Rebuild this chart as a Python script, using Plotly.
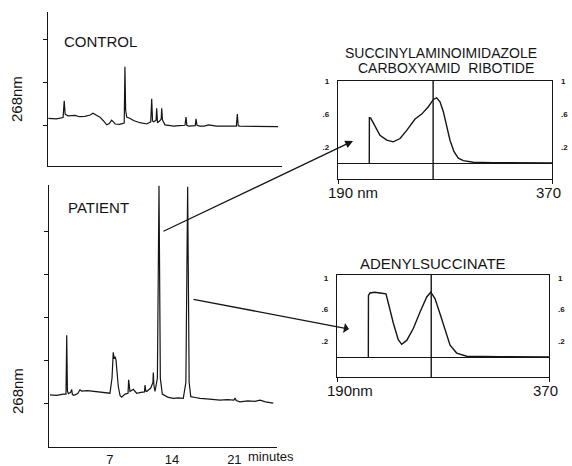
import plotly.graph_objects as go

# ---------------- data ----------------
# Control chromatogram (time in minutes, absorbance 268 nm, arbitrary units)
CONTROL_T = [0.1, 1.0, 1.75, 1.88, 1.98, 2.3, 3.1, 3.6, 4.2, 4.8, 5.1, 5.5, 5.9, 6.3, 6.65,
             6.95, 7.2, 7.4, 7.6, 8.1, 8.62, 8.70, 8.78, 8.9, 9.3, 9.65, 10.4, 11.15, 11.6,
             11.71, 11.8, 11.95, 12.2, 12.27, 12.36, 12.6, 12.78, 12.83, 12.92, 13.2, 13.7,
             14.2, 14.8, 15.45, 15.56, 15.66, 15.85, 16.6, 16.69, 16.8, 17.1, 17.6, 18.1,
             18.6, 19.0, 19.6, 20.4, 21.22, 21.33, 21.43, 21.6, 22.5, 23.4, 24.3, 25.2, 25.9]
CONTROL_V = [1.16, 1.15, 1.18, 1.57, 1.26, 1.22, 1.23, 1.20, 1.21, 1.24, 1.28, 1.23, 1.19, 1.10, 1.01,
             1.04, 1.12, 1.08, 1.03, 1.02, 1.05, 2.37, 1.35, 1.19, 1.16, 1.11, 1.06, 1.03, 1.08,
             1.62, 1.10, 1.08, 1.12, 1.40, 1.06, 1.10, 1.15, 1.40, 1.12, 1.01, 1.00,
             0.98, 0.99, 1.00, 1.19, 1.00, 0.98, 0.99, 1.15, 1.00, 0.98, 0.98, 1.01,
             0.99, 0.98, 0.98, 0.98, 0.98, 1.26, 0.99, 0.98, 0.98, 0.97, 0.97, 0.97, 0.97]

# Patient chromatogram
PATIENT_T = [0.28, 1.0, 1.78, 2.08, 2.16, 2.24, 2.35, 2.6, 2.72, 2.8, 2.98, 3.4, 3.65, 3.84, 4.5,
             5.53, 6.3, 7.02, 7.25, 7.39, 7.5, 7.6, 7.70, 7.85, 7.96, 8.15, 8.34, 8.71, 9.05,
             9.12, 9.2, 9.27, 9.64, 10.02, 10.5, 10.9, 10.96, 11.05, 11.15, 11.6, 11.85, 11.89,
             11.95, 12.08, 12.35, 12.53, 12.68, 12.8, 12.90, 13.5, 14.13, 14.7, 15.26, 15.55,
             15.75, 15.92, 16.1, 16.6, 17.13, 17.9, 18.63, 19.38, 20.2, 20.95, 21.07, 21.2,
             21.63, 22.5, 23.3, 23.88, 24.5, 25.37]
PATIENT_V = [1.21, 1.20, 1.23, 1.23, 2.60, 1.30, 1.24, 1.27, 1.34, 1.22, 1.20, 1.24, 1.33, 1.30, 1.31,
             1.29, 1.26, 1.25, 1.60, 2.20, 2.05, 2.10, 2.02, 1.60, 1.40, 1.20, 1.16, 1.23, 1.25,
             1.56, 1.32, 1.29, 1.34, 1.25, 1.27, 1.28, 1.44, 1.30, 1.29, 1.37, 1.50, 1.73,
             1.45, 1.29, 1.60, 6.07, 1.60, 1.37, 1.23, 1.16, 1.13, 1.14, 1.13, 1.50,
             6.05, 1.50, 1.17, 1.15, 1.13, 1.12, 1.11, 1.09, 1.10, 1.09, 1.14, 1.08,
             1.05, 1.07, 1.06, 1.09, 1.05, 1.02]
TIME_TICKS = [7, 14, 21]

# UV spectra (wavelength nm, absorbance)
SPEC1_NM = [216.3, 216.4, 217.5, 219.7, 225.3, 231.0, 236.5, 242.2, 247.8, 254.8, 260.4, 266.0,
            270.2, 273.0, 275.8, 278.6, 281.4, 284.2, 287.6, 291.2, 295.4, 303.8, 320, 340, 370]
SPEC1_A = [0.0, 0.556, 0.55, 0.49, 0.34, 0.28, 0.26, 0.30, 0.40, 0.54, 0.60, 0.69,
           0.78, 0.80, 0.75, 0.63, 0.45, 0.28, 0.14, 0.06, 0.03, 0.01, 0.005, 0.003, 0.0]
SPEC2_NM = [216.6, 216.7, 218.0, 222.0, 226.5, 231.6, 233.6, 237.8, 242.0, 244.9, 249.2, 254.8,
            260.5, 266.2, 269.6, 273.2, 277.4, 281.7, 286.0, 291.6, 300.1, 328, 370]
SPEC2_A = [0.0, 0.78, 0.81, 0.82, 0.81, 0.80, 0.68, 0.43, 0.22, 0.16, 0.21, 0.36,
           0.57, 0.76, 0.82, 0.74, 0.55, 0.34, 0.15, 0.05, 0.01, 0.005, 0.0]
ABS_TICKS = [0.2, 0.6, 1.0]
ABS_TICKTEXT = ["<b>.2</b>", "<b>.6</b>", "<b>1</b>"]
NM_RANGE = [190, 370]
CURSOR_NM = 270

# ---------------- layout helpers ----------------
W, H = 572, 466
def px(x):
    return x / W
def py(y):
    return 1 - y / H

FONT = "Liberation Sans, Arial, sans-serif"
INK = "#151515"

fig = go.Figure()
line = dict(color=INK, width=1.2)
fig.add_trace(go.Scatter(x=CONTROL_T, y=CONTROL_V, mode="lines", line=line, xaxis="x", yaxis="y", hoverinfo="skip"))
fig.add_trace(go.Scatter(x=PATIENT_T, y=PATIENT_V, mode="lines", line=line, xaxis="x2", yaxis="y2", hoverinfo="skip"))
fig.add_trace(go.Scatter(x=SPEC1_NM, y=SPEC1_A, mode="lines", line=dict(color=INK, width=1.4), xaxis="x3", yaxis="y3", hoverinfo="skip"))
fig.add_trace(go.Scatter(x=SPEC2_NM, y=SPEC2_A, mode="lines", line=dict(color=INK, width=1.4), xaxis="x4", yaxis="y4", hoverinfo="skip"))
# invisible traces so the right-hand absorbance axes are drawn
fig.add_trace(go.Scatter(x=SPEC1_NM, y=SPEC1_A, mode="lines", line=dict(color="rgba(0,0,0,0)", width=0), xaxis="x3", yaxis="y5", hoverinfo="skip"))
fig.add_trace(go.Scatter(x=SPEC2_NM, y=SPEC2_A, mode="lines", line=dict(color="rgba(0,0,0,0)", width=0), xaxis="x4", yaxis="y6", hoverinfo="skip"))

base = dict(showgrid=False, zeroline=False, linecolor=INK, linewidth=1.4, tickcolor=INK,
            fixedrange=True, automargin=False)

# Chromatogram axes
xaxis = dict(base, domain=[px(48), px(282)], range=[0.056, 26.35], anchor="y", showline=True,
             showticklabels=False, ticks="")
yaxis = dict(base, domain=[py(166), py(12)], range=[0.047, 3.65], anchor="x", showline=True,
             tickvals=[1, 2, 3], ticks="outside", ticklen=4, tickwidth=1, showticklabels=False)
xaxis2 = dict(base, domain=[px(49), px(277)], range=[0.17, 25.79], anchor="y2", showline=True,
              tickvals=TIME_TICKS, ticks="", tickfont=dict(family=FONT, size=13, color=INK),
              ticklabelstandoff=0)
yaxis2 = dict(base, domain=[py(447), py(185)], range=[0, 6.09], anchor="x2", showline=True,
              tickvals=[1, 2, 3, 4, 5], ticks="outside", ticklen=4, tickwidth=1, showticklabels=False)

# Spectrum axes
tickfont_small = dict(family=FONT, size=8, color=INK)
def spec_x(dom, anchor):
    return dict(base, domain=dom, range=NM_RANGE, anchor=anchor, showline=True, mirror=True,
                tickvals=NM_RANGE, ticks="outside", ticklen=4, tickwidth=1, showticklabels=False)
def spec_y(dom, rng, anchor):
    return dict(base, domain=dom, range=rng, anchor=anchor, showline=True, mirror=True,
                zeroline=True, zerolinecolor=INK, zerolinewidth=1.4,
                tickvals=ABS_TICKS, ticktext=ABS_TICKTEXT, ticks="", tickfont=tickfont_small,
                ticklabelstandoff=6)
def spec_yr(over, rng, anchor):
    return dict(base, range=rng, overlaying=over, side="right", anchor=anchor, showline=False,
                tickvals=ABS_TICKS, ticktext=ABS_TICKTEXT, ticks="", tickfont=tickfont_small,
                ticklabelstandoff=8)

S1_Y = [-0.196, 1.006]
S2_Y = [-0.253, 1.038]
xaxis3 = spec_x([px(338), px(552)], "y3")
yaxis3 = spec_y([py(179), py(81)], S1_Y, "x3")
xaxis4 = spec_x([px(337), px(549)], "y4")
yaxis4 = spec_y([py(377), py(275)], S2_Y, "x4")
yaxis5 = spec_yr("y3", S1_Y, "x3")
yaxis6 = spec_yr("y4", S2_Y, "x4")

txt = lambda s: dict(family=FONT, size=s, color=INK)
def label(text, x, y, size, **kw):
    return dict(text=text, x=px(x), y=py(y), xref="paper", yref="paper", showarrow=False,
                xanchor="center", yanchor="middle", font=txt(size), **kw)

annotations = [
    label("CONTROL", 100, 41, 15),
    label("PATIENT", 98, 207, 15),
    label("268nm", 17, 99, 15, textangle=-90),
    label("268nm", 17, 391, 15, textangle=-90),
    label("minutes", 271, 456, 13),
    label("SUCCINYLAMINOIMIDAZOLE", 441, 53, 14),
    label("CARBOXYAMID  RIBOTIDE", 446, 68, 14),
    label("ADENYLSUCCINATE", 433, 263, 15),
    label("190 nm", 353, 192, 15),
    label("370", 548, 192, 15),
    label("190nm", 350, 390, 15),
    label("370", 545, 390, 15),
    # arrows from the chromatogram peaks to their spectra
    dict(text="", x=px(353), y=py(141), xref="paper", yref="paper", showarrow=True,
         ax=162 - 353, ay=232 - 141, arrowhead=2, arrowsize=1.2, arrowwidth=1.3, arrowcolor=INK),
    dict(text="", x=px(349), y=py(329), xref="paper", yref="paper", showarrow=True,
         ax=192 - 349, ay=299 - 329, arrowhead=1, arrowsize=1.3, arrowwidth=1.3, arrowcolor=INK),
]

shapes = [
    dict(type="line", xref="x3", yref="y3 domain", x0=CURSOR_NM, x1=CURSOR_NM, y0=0, y1=1,
         line=dict(color=INK, width=1.4)),
    dict(type="line", xref="x4", yref="y4 domain", x0=CURSOR_NM, x1=CURSOR_NM, y0=0, y1=1,
         line=dict(color=INK, width=1.4)),
]

fig.update_layout(
    width=W, height=H, margin=dict(l=0, r=0, t=0, b=0, pad=0, autoexpand=False),
    paper_bgcolor="white", plot_bgcolor="white", showlegend=False,
    font=dict(family=FONT, color=INK),
    xaxis=xaxis, yaxis=yaxis, xaxis2=xaxis2, yaxis2=yaxis2,
    xaxis3=xaxis3, yaxis3=yaxis3, xaxis4=xaxis4, yaxis4=yaxis4,
    yaxis5=yaxis5, yaxis6=yaxis6,
    annotations=annotations, shapes=shapes,
)

fig.write_html("out.html")
